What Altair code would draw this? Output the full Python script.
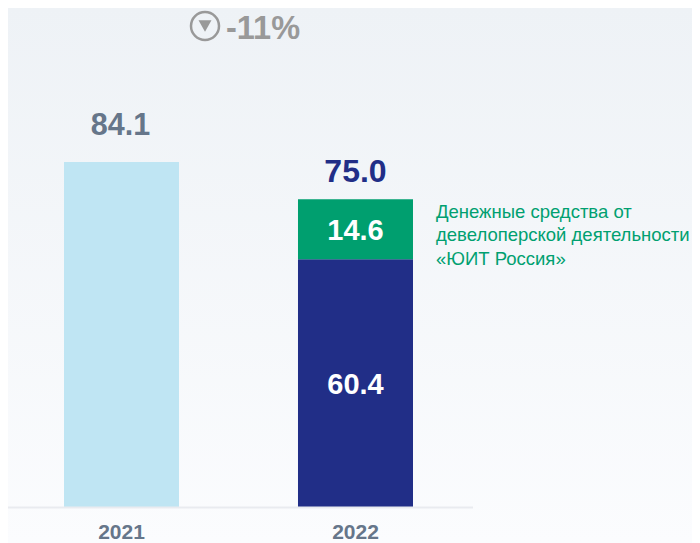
import altair as alt
import pandas as pd

years = ["2021", "2022", "2022"]
segments = ["prior", "core", "developer"]
starts = [0.0, 0.0, 60.4]
ends = [84.1, 60.4, 75.0]
inner_labels = ["60.4", "14.6"]
inner_mids = [30.2, 67.7]
inner_years = ["2022", "2022"]
note_lines = ["Денежные средства от", "девелоперской деятельности", "«ЮИТ Россия»"]
note_values = [71.9, 66.3, 60.4]
change_label = "-11%"

FONT = "Liberation Sans"
bars = pd.DataFrame({"year": years, "segment": segments, "start": starts, "end": ends})
inner = pd.DataFrame({"year": inner_years, "mid": inner_mids, "label": inner_labels})
tot_2021 = pd.DataFrame({"year": ["2021"], "total": [84.1], "label": ["84.1"]})
tot_2022 = pd.DataFrame({"year": ["2022"], "total": [75.0], "label": ["75.0"]})
notes = pd.DataFrame({"line": note_lines, "value": note_values})
one = pd.DataFrame({"k": [0]})

x_scale = alt.Scale(domain=["2021", "2022"], range=[-3.5, 464.5], paddingInner=0.5085, paddingOuter=0.2543)
y_scale = alt.Scale(domain=[0, 121.6], range=[499, 0], nice=False, zero=True)
x = alt.X("year:N", scale=x_scale, title=None, axis=alt.Axis(
    labelAngle=0, labelFont=FONT, labelFontWeight="bold", labelFontSize=21, labelColor="#66768a",
    ticks=False, domainColor="#e9ebf0", domainWidth=2, labelPadding=14, zindex=1))
y = alt.Y("start:Q", scale=y_scale, axis=None)

background = alt.Chart(one).mark_rect(fill=alt.LinearGradient(
    gradient="linear", x1=0, x2=0, y1=0, y2=1,
    stops=[alt.GradientStop(offset=0, color="#eef2f6"), alt.GradientStop(offset=1, color="#fbfcfe")]
)).encode(x=alt.value(0), x2=alt.value(684), y=alt.value(0), y2=alt.value(535))

bar_layer = alt.Chart(bars).mark_bar(stroke=None).encode(
    x=x, y=y, y2="end:Q",
    color=alt.Color("segment:N", legend=None, scale=alt.Scale(
        domain=["prior", "core", "developer"], range=["#bfe5f3", "#212e87", "#009f6f"])))

inner_text = alt.Chart(inner).mark_text(font=FONT, fontWeight="bold", fontSize=29, color="white", baseline="middle", dy=2).encode(
    x=alt.X("year:N", scale=x_scale), y=alt.Y("mid:Q", scale=y_scale, axis=None), text="label:N")

total_a = alt.Chart(tot_2021).mark_text(font=FONT, fontWeight="bold", fontSize=30.5, baseline="middle", dy=-36, dx=-1, color="#66768a").encode(
    x=alt.X("year:N", scale=x_scale), y=alt.Y("total:Q", scale=y_scale, axis=None), text="label:N")
total_b = alt.Chart(tot_2022).mark_text(font=FONT, fontWeight="bold", fontSize=32, baseline="middle", dy=-27, color="#212e87").encode(
    x=alt.X("year:N", scale=x_scale), y=alt.Y("total:Q", scale=y_scale, axis=None), text="label:N")

note_text = alt.Chart(notes).mark_text(font=FONT, fontSize=18.5, color="#00a070", align="left", baseline="middle").encode(
    x=alt.value(428), y=alt.Y("value:Q", scale=y_scale, axis=None), text="line:N")

change_text = alt.Chart(one).mark_text(text=change_label, font=FONT, fontWeight="bold", fontSize=32.5, color="#999999", align="left", baseline="middle").encode(
    x=alt.value(218), y=alt.value(21))
ring = alt.Chart(one).mark_point(shape="circle", size=784, filled=False, stroke="#999999", strokeWidth=2.5, opacity=1).encode(
    x=alt.value(197), y=alt.value(18))
tri = alt.Chart(one).mark_point(shape="triangle-down", size=169, filled=True, fill="#999999", stroke=None, opacity=1).encode(
    x=alt.value(197), y=alt.value(18))

chart = alt.layer(background, bar_layer, inner_text, total_a, total_b, note_text, ring, tri, change_text).properties(
    width=684, height=499,
    padding={"left": 0, "top": 0, "right": 0, "bottom": 36},
    autosize=alt.AutoSizeParams(type="none"),
).configure_view(stroke=None)

chart.save("out.html", embed_options={"renderer": "svg", "actions": False})
